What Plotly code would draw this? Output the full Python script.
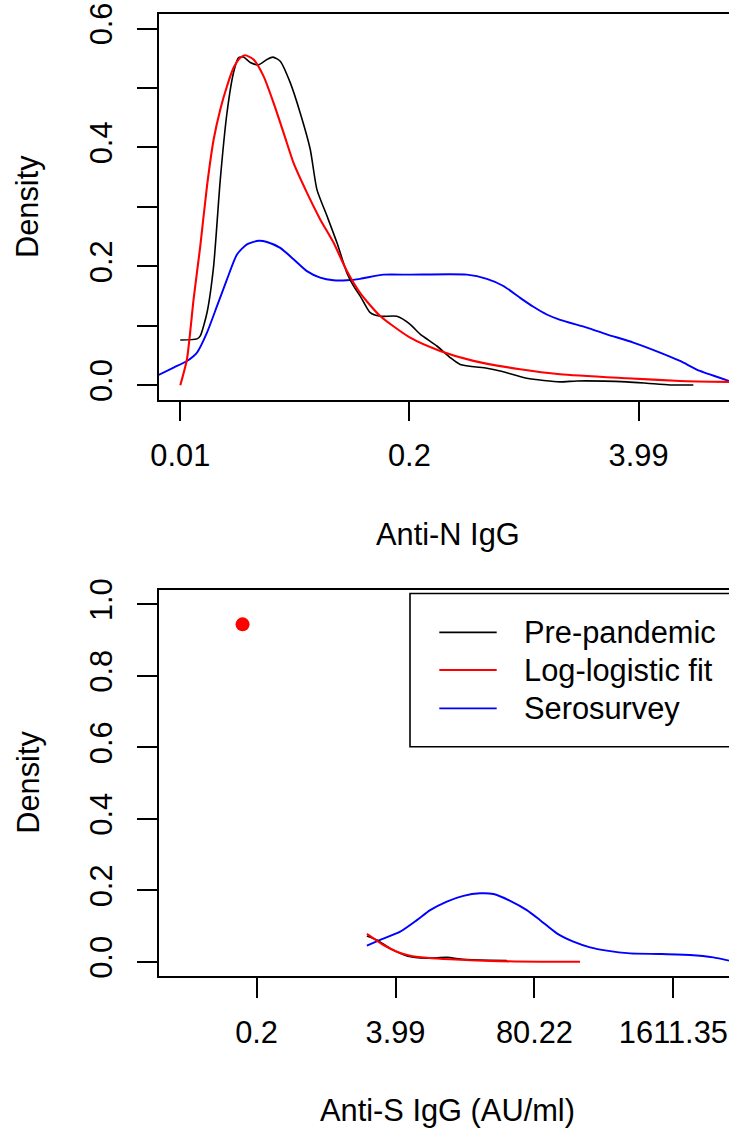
import plotly.graph_objects as go

# ---------------- Top panel: Anti-N IgG ----------------
n_pre_x = [0.00990, 0.01232, 0.01286, 0.01404, 0.01531, 0.01671, 0.01824, 0.01988, 0.02123, 0.02266,
           0.02474, 0.02759, 0.03079, 0.03331, 0.03664, 0.04176, 0.04759, 0.05426, 0.05924, 0.06751,
           0.07693, 0.08770, 0.09561, 0.1044, 0.1190, 0.1356, 0.1688, 0.2008, 0.2288, 0.2848,
           0.3389, 0.3864, 0.5479, 0.6522, 0.9247, 1.430, 1.779, 3.422, 4.448, 6.034, 8.185]
n_pre_y = [0.076, 0.078, 0.083, 0.122, 0.200, 0.346, 0.458, 0.526, 0.551, 0.552,
           0.543, 0.539, 0.548, 0.552, 0.545, 0.509, 0.458, 0.397, 0.329, 0.285,
           0.240, 0.189, 0.167, 0.150, 0.122, 0.116, 0.116, 0.1025, 0.086, 0.066,
           0.0465, 0.035, 0.0286, 0.024, 0.0118, 0.0056, 0.0072, 0.0056, 0.0034, 0.0005, 0.0005]

n_fit_x = [0.00990, 0.01080, 0.01178, 0.01286, 0.01404, 0.01531, 0.01671, 0.01824, 0.01988, 0.02171,
           0.02317, 0.02584, 0.02944, 0.03357, 0.03825, 0.04360, 0.05195, 0.06183, 0.07358, 0.08770,
           0.1044, 0.1356, 0.2008, 0.2974, 0.4599, 0.8472, 1.430, 3.422, 6.876, 13.06]
n_fit_y = [0.0, 0.0437, 0.1445, 0.234, 0.335, 0.413, 0.464, 0.503, 0.534, 0.551,
           0.555, 0.548, 0.520, 0.475, 0.425, 0.374, 0.324, 0.279, 0.240, 0.192,
           0.155, 0.1165, 0.080, 0.0577, 0.041, 0.0269, 0.0185, 0.0118, 0.0072, 0.0056]

n_sero_x = [0.0074, 0.009068, 0.01080, 0.01232, 0.01404, 0.01600, 0.01824, 0.02079, 0.02369, 0.02759,
            0.03079, 0.03664, 0.04360, 0.05195, 0.06183, 0.07358, 0.08770, 0.1044, 0.1416, 0.2008,
            0.4217, 0.5479, 0.6809, 0.8472, 1.008, 1.201, 1.430, 2.028, 2.634, 3.732,
            5.291, 6.876, 8.933, 13.06]
n_sero_y = [0.0168, 0.0297, 0.0408, 0.055, 0.0886, 0.133, 0.178, 0.220, 0.237, 0.243,
            0.241, 0.231, 0.212, 0.192, 0.181, 0.1765, 0.1765, 0.179, 0.186, 0.186,
            0.186, 0.179, 0.167, 0.147, 0.132, 0.119, 0.110, 0.097, 0.0857, 0.0718,
            0.055, 0.0408, 0.024, 0.0072]

n_tick_vals = [0.009898, 0.1988, 3.994]
n_tick_text = ["0.01", "0.2", "3.99"]
n_ytick_vals = [0.0, 0.1, 0.2, 0.3, 0.4, 0.5, 0.6]
n_ytick_text = ["0.0", "", "0.2", "", "0.4", "", "0.6"]

# ---------------- Bottom panel: Anti-S IgG ----------------
s_pre_x = [2.153, 2.672, 3.560, 5.105, 7.862, 12.10, 17.31, 30.81, 44.18]
s_pre_y = [0.0727, 0.0615, 0.038, 0.0168, 0.0103, 0.013, 0.0075, 0.0047, 0.0037]

s_fit_x = [2.153, 2.483, 3.080, 4.114, 5.483, 7.862, 12.99, 30.81, 90.64, 214.8]
s_fit_y = [0.0783, 0.0662, 0.0475, 0.0288, 0.0176, 0.012, 0.0075, 0.0028, 0.0008, 0.0008]

s_sero_x = [2.153, 2.869, 4.418, 6.336, 8.439, 12.10, 17.31, 24.83, 33.08, 47.45,
            68.02, 90.64, 130.0, 185.9, 266.7, 382.3, 632.1, 1207, 2307, 3815, 5354]
s_sero_y = [0.0456, 0.0615, 0.0847, 0.117, 0.145, 0.169, 0.185, 0.192, 0.190, 0.171,
            0.145, 0.117, 0.080, 0.0568, 0.041, 0.0317, 0.0242, 0.0224, 0.0196, 0.0130, 0.0037]

s_point_x = [0.147]
s_point_y = [0.944]

s_tick_vals = [0.1988, 3.994, 80.22, 1611.35]
s_tick_text = ["0.2", "3.99", "80.22", "1611.35"]
s_ytick_vals = [0.0, 0.2, 0.4, 0.6, 0.8, 1.0]
s_ytick_text = ["0.0", "0.2", "0.4", "0.6", "0.8", "1.0"]

legend_names = ["Pre-pandemic", "Log-logistic fit", "Serosurvey"]
legend_colors = ["black", "red", "blue"]

FONT = "Liberation Sans, Arial, sans-serif"
FS = 30.8
OFF = 0                      # body margin removed by post_script
W, H = 729 - OFF, 1130 - OFF
ML = 159 - OFF

fig = go.Figure()

def add_line(x, y, color, width, xa, ya):
    fig.add_trace(go.Scatter(x=x, y=y, mode="lines",
                             line=dict(color=color, width=width, shape="spline", smoothing=0.6),
                             xaxis=xa, yaxis=ya, showlegend=False, hoverinfo="skip"))

add_line(n_sero_x, n_sero_y, "blue", 1.9, "x", "y")
add_line(n_pre_x, n_pre_y, "black", 1.6, "x", "y")
add_line(n_fit_x, n_fit_y, "red", 2.1, "x", "y")

add_line(s_sero_x, s_sero_y, "blue", 1.9, "x2", "y2")
add_line(s_pre_x, s_pre_y, "black", 1.6, "x2", "y2")
add_line(s_fit_x, s_fit_y, "red", 2.1, "x2", "y2")
fig.add_trace(go.Scatter(x=s_point_x, y=s_point_y, mode="markers",
                         marker=dict(color="red", size=14, line=dict(width=0)),
                         xaxis="x2", yaxis="y2", showlegend=False, hoverinfo="skip"))

# window pixel -> paper coordinates
def py2paper(py):
    return (H - (py - OFF)) / H

def px2paper(px):
    return (px - OFF - ML) / (W - ML)

axis_common = dict(showline=True, linecolor="black", linewidth=1.6, ticks="outside", ticklen=20,
                   tickwidth=1.6, tickcolor="black", showgrid=False, zeroline=False,
                   ticklabeloverflow="allow",
                   tickfont=dict(family=FONT, size=FS, color="black"), automargin=False)

fig.update_layout(
    width=W, height=H,
    margin=dict(l=ML, r=0, t=0, b=0),
    paper_bgcolor="white", plot_bgcolor="white",
    showlegend=False,
    xaxis=dict(type="log", range=[-2.1255, 1.1158], domain=[0, 1], anchor="y", mirror=True,
               tickvals=n_tick_vals, ticktext=n_tick_text, ticklabelstandoff=8, **axis_common),
    yaxis=dict(range=[-0.024, 0.624], domain=[py2paper(399.5), py2paper(14.3)], anchor="x",
               tickvals=n_ytick_vals, ticktext=n_ytick_text, tickangle=-90, ticklabelstandoff=13,
               **axis_common),
    xaxis2=dict(type="log", range=[-1.6163, 3.7286], domain=[0, 1], anchor="y2", mirror=True,
                tickvals=s_tick_vals, ticktext=s_tick_text, ticklabelstandoff=8, **axis_common),
    yaxis2=dict(range=[-0.04, 1.04], domain=[py2paper(976.3), py2paper(590)], anchor="x2",
                tickvals=s_ytick_vals, ticktext=s_ytick_text, tickangle=-90, ticklabelstandoff=13,
                **axis_common),
)

font = dict(family=FONT, size=FS, color="black")
annotations = [
    dict(text="Density", x=px2paper(28.3), y=py2paper(206.8), textangle=-90),
    dict(text="Density", x=px2paper(28.3), y=py2paper(782.5), textangle=-90),
    dict(text="Anti-N IgG", x=px2paper(447.5), y=py2paper(534)),
    dict(text="Anti-S IgG (AU/ml)", x=px2paper(447.5), y=py2paper(1110)),
]
for a in annotations:
    fig.add_annotation(xref="paper", yref="paper", showarrow=False, font=font,
                       xanchor="center", yanchor="middle", **a)

# legend (drawn manually, R-style)
fig.add_shape(type="rect", xref="paper", yref="paper",
              x0=px2paper(410), x1=px2paper(745), y0=py2paper(746.7), y1=py2paper(593.5),
              line=dict(color="black", width=1.6), fillcolor="white", layer="above")
leg_rows = [632.3, 670.0, 708.3]
for name, col, ry in zip(legend_names, legend_colors, leg_rows):
    fig.add_shape(type="line", xref="paper", yref="paper",
                  x0=px2paper(439.3), x1=px2paper(496.7), y0=py2paper(ry), y1=py2paper(ry),
                  line=dict(color=col, width=1.8), layer="above")
    fig.add_annotation(xref="paper", yref="paper", showarrow=False, font=font,
                       text=name, x=px2paper(522), y=py2paper(ry), xanchor="left", yanchor="middle")

fig.write_html("out.html", config={"displayModeBar": False},
               post_script="document.body.style.margin='0px';document.body.style.overflow='hidden';")
